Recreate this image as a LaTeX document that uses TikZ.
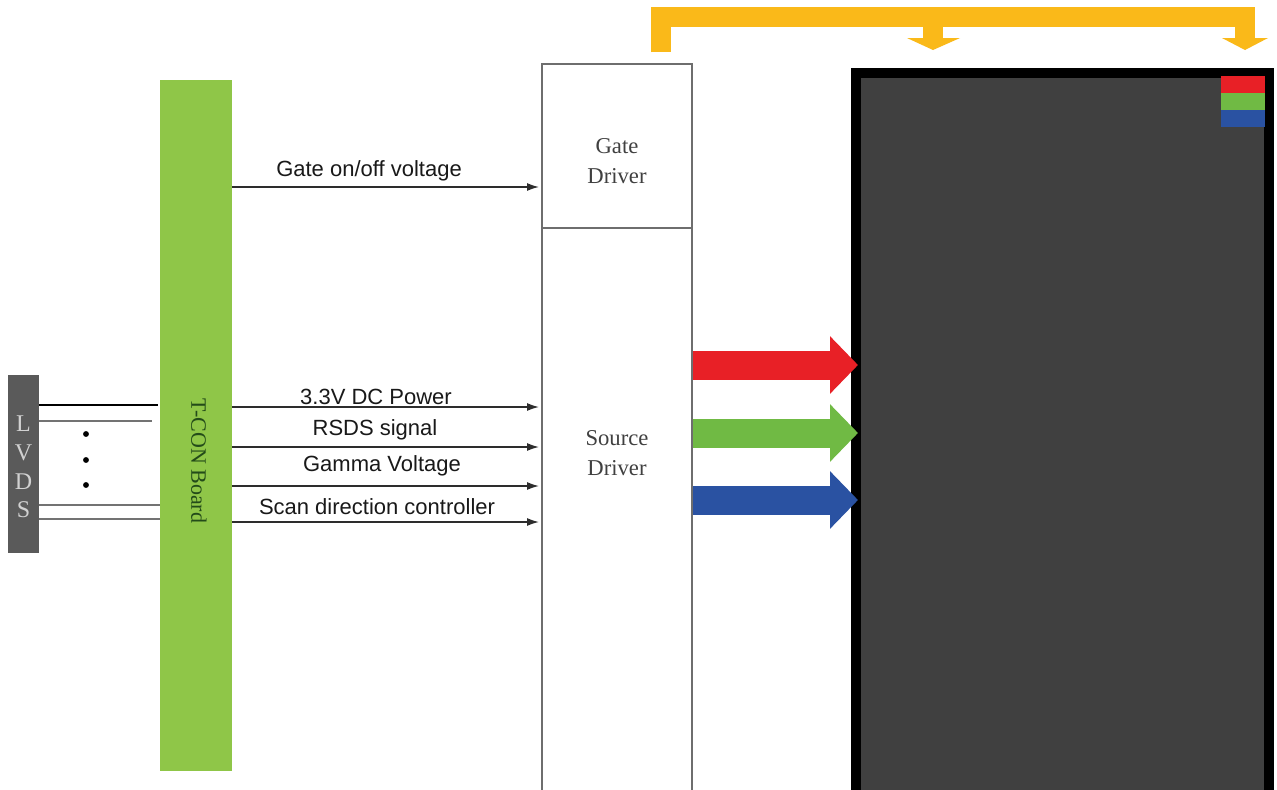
\documentclass[tikz,border=0pt]{standalone}
\usepackage{xcolor}
\usepackage{fontspec}
\setmainfont{Liberation Serif}
\newfontfamily\labelfont{Liberation Sans}
\usetikzlibrary{arrows.meta}

\definecolor{tcongreen}{RGB}{143,198,72}
\definecolor{tcontext}{RGB}{35,75,25}
\definecolor{lvdsgray}{RGB}{90,90,90}
\definecolor{panelgray}{RGB}{64,64,64}
\definecolor{boxline}{RGB}{110,110,110}
\definecolor{sigline}{RGB}{45,45,45}
\definecolor{yellowbus}{RGB}{250,185,25}
\definecolor{redarrow}{RGB}{232,32,38}
\definecolor{greenarrow}{RGB}{112,186,68}
\definecolor{bluearrow}{RGB}{42,82,162}

\tikzset{
  drvbox/.style={draw=boxline, line width=1.5pt, fill=white, inner sep=0pt},
  sigarrow/.style={draw=sigline, line width=1.1pt, -{Latex[length=9pt,width=6pt]}},
  siglabel/.style={font=\labelfont\fontsize{16.5}{18}\selectfont, text=black!90},
  lvdswire/.style={line width=1.2pt},
  rgbarrow/.style={line width=21.75pt, -{Triangle[length=21pt,width=42pt]}},
  busline/.style={draw=yellowbus, line width=15pt, miter limit=10},
}

\begin{document}
\begin{tikzpicture}[x=0.75pt,y=0.75pt,yscale=-1,xscale=1]
\clip (0,0) rectangle (1277,789);
\fill[white] (0,0) rectangle (1277,789);

%Shape: Rectangle [T-CON board]
\node (tcon) [fill=tcongreen, minimum width=54pt, minimum height=518.25pt, inner sep=0pt] at (196,425.5) {};
%Shape: Rectangle [LVDS connector]
\node (lvds) [fill=lvdsgray, minimum width=23.25pt, minimum height=133.5pt, inner sep=0pt] at (23.5,464) {};
%Shape: Rectangle [gate driver]
\node (gate) [drvbox, minimum width=112.5pt, minimum height=123pt] at (617,146) {};
%Shape: Rectangle [source driver]
\node (source) [drvbox, minimum width=112.5pt, minimum height=429pt] at (617,514) {};
%Shape: Rectangle [panel]
\node (panel) [draw=black, line width=7.5pt, fill=panelgray, minimum width=309.75pt, minimum height=545.25pt, inner sep=0pt] at (1062.5,436.5) {};

%Shape: Rectangle [sub pixels]
\fill[redarrow] (1221,76) rectangle (1265,93);
\fill[greenarrow] (1221,93) rectangle (1265,110);
\fill[bluearrow] (1221,110) rectangle (1265,127);

%Straight Lines [gate scan bus]
\coordinate (busstart) at (661,52);
\coordinate (busmid) at (933,50);
\coordinate (busend) at (1245,50);
\draw[busline] (busstart) -- (661,17) -- (1245,17) -- ([yshift=-9pt]busend);
\draw[busline] (933,17) -- ([yshift=-9pt]busmid);
\fill[yellowbus] (1222,38) -- (1268,38) -- (busend) -- cycle;
\fill[yellowbus] (907,38) -- (960,38) -- (busmid) -- cycle;

%Straight Lines [LVDS wires]
\draw[lvdswire, black, line width=1.5pt] (lvds.east |- 0,405) -- (158,405);
\draw[lvdswire, black!55] (lvds.east |- 0,421) -- (152,421);
\draw[lvdswire, black!55] (lvds.east |- 0,505) -- (tcon.west |- 0,505);
\draw[lvdswire, black!55] (lvds.east |- 0,519) -- (tcon.west |- 0,519);
\foreach \y in {434,460,485}
  \fill[black] (86,\y) circle (2.2pt);

%Straight Lines [control signals]
\draw[sigarrow] (tcon.east |- 0,187) -- ([xshift=-1.5pt]gate.west |- 0,187);
\draw[sigarrow] (tcon.east |- 0,407) -- ([xshift=-1.5pt]source.west |- 0,407);
\draw[sigarrow] (tcon.east |- 0,447) -- ([xshift=-1.5pt]source.west |- 0,447);
\draw[sigarrow] (tcon.east |- 0,486) -- ([xshift=-1.5pt]source.west |- 0,486);
\draw[sigarrow] (tcon.east |- 0,522) -- ([xshift=-1.5pt]source.west |- 0,522);

%Straight Lines [RGB data]
\draw[rgbarrow, redarrow] (source.east |- 0,365) -- ([xshift=5.25pt]panel.west |- 0,365);
\draw[rgbarrow, greenarrow] (source.east |- 0,433) -- ([xshift=5.25pt]panel.west |- 0,433);
\draw[rgbarrow, bluearrow] (source.east |- 0,500) -- ([xshift=5.25pt]panel.west |- 0,500);

% Text Node
\node (gatelbl) [siglabel] at (369,171) {Gate on/off voltage};
% Text Node
\node (pwrlbl) [siglabel] at (376,397) {3.3V DC Power};
% Text Node
\node (rsdslbl) [siglabel] at (375,430) {RSDS signal};
% Text Node
\node (gammalbl) [siglabel] at (382,466) {Gamma Voltage};
% Text Node
\node (scanlbl) [siglabel] at (377,507) {Scan direction controller};
% Text Node
\node (gatetxt) [align=center, font=\fontsize{17}{22.5}\selectfont, text=black!75] at (617,161) {Gate\\Driver};
% Text Node
\node (sourcetxt) [align=center, font=\fontsize{17}{22}\selectfont, text=black!75] at (617,453) {Source\\Driver};
% Text Node
\node (tcontxt) [rotate=-90, font=\fontsize{16.5}{18}\selectfont, text=tcontext] at (199,461) {T-CON Board};
% Text Node
\node (lvdstxt) [align=center, font=\fontsize{18}{21.5}\selectfont, text=black!18] at (23.5,467) {L\\V\\D\\S};

\end{tikzpicture}
\end{document}
